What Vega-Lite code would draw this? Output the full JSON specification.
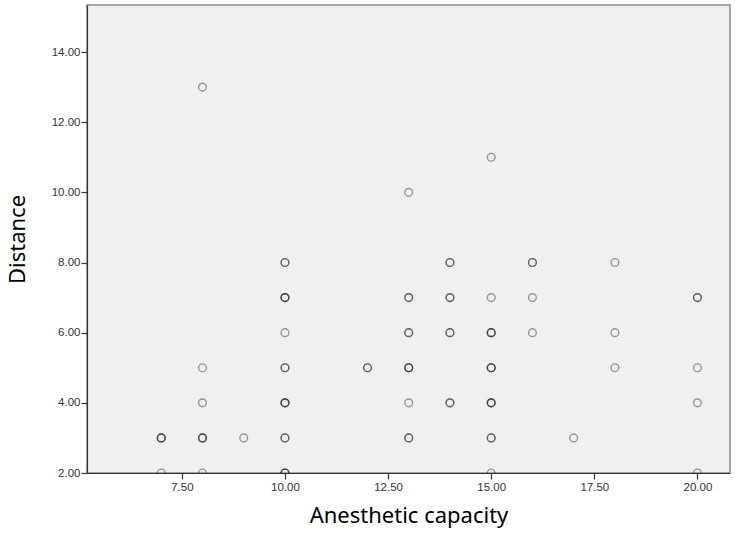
{
  "$schema": "https://vega.github.io/schema/vega-lite/v6.json",
  "width": 643,
  "height": 468,
  "autosize": "none",
  "padding": {"left": 87, "top": 5, "right": 5, "bottom": 64},
  "background": "white",
  "config": {
    "view": {"fill": "#F0F0F0", "stroke": "#8a8a8a", "strokeWidth": 1.5},
    "axis": {
      "grid": false,
      "domainColor": "#333333",
      "domainWidth": 1.2,
      "tickColor": "#333333",
      "tickSize": 6,
      "tickWidth": 1.2,
      "labelFont": "Liberation Sans",
      "labelFontSize": 11.5,
      "labelColor": "#333333",
      "titleFont": "Noto Sans",
      "titleFontSize": 22,
      "titleFontWeight": "normal",
      "titleColor": "#000000"
    }
  },
  "data": {
    "values": [
      {"capacity": 7, "distance": 3}, {"capacity": 7, "distance": 3}, {"capacity": 7, "distance": 3},
      {"capacity": 7, "distance": 2},
      {"capacity": 8, "distance": 13},
      {"capacity": 8, "distance": 5},
      {"capacity": 8, "distance": 4},
      {"capacity": 8, "distance": 3}, {"capacity": 8, "distance": 3}, {"capacity": 8, "distance": 3},
      {"capacity": 8, "distance": 2},
      {"capacity": 9, "distance": 3},
      {"capacity": 10, "distance": 8}, {"capacity": 10, "distance": 8},
      {"capacity": 10, "distance": 7}, {"capacity": 10, "distance": 7}, {"capacity": 10, "distance": 7},
      {"capacity": 10, "distance": 6},
      {"capacity": 10, "distance": 5}, {"capacity": 10, "distance": 5},
      {"capacity": 10, "distance": 4}, {"capacity": 10, "distance": 4}, {"capacity": 10, "distance": 4},
      {"capacity": 10, "distance": 3}, {"capacity": 10, "distance": 3},
      {"capacity": 10, "distance": 2}, {"capacity": 10, "distance": 2}, {"capacity": 10, "distance": 2},
      {"capacity": 12, "distance": 5}, {"capacity": 12, "distance": 5},
      {"capacity": 13, "distance": 10},
      {"capacity": 13, "distance": 7}, {"capacity": 13, "distance": 7},
      {"capacity": 13, "distance": 6}, {"capacity": 13, "distance": 6},
      {"capacity": 13, "distance": 5}, {"capacity": 13, "distance": 5}, {"capacity": 13, "distance": 5},
      {"capacity": 13, "distance": 4},
      {"capacity": 13, "distance": 3}, {"capacity": 13, "distance": 3},
      {"capacity": 14, "distance": 8}, {"capacity": 14, "distance": 8},
      {"capacity": 14, "distance": 7}, {"capacity": 14, "distance": 7},
      {"capacity": 14, "distance": 6}, {"capacity": 14, "distance": 6},
      {"capacity": 14, "distance": 4}, {"capacity": 14, "distance": 4},
      {"capacity": 15, "distance": 11},
      {"capacity": 15, "distance": 7},
      {"capacity": 15, "distance": 6}, {"capacity": 15, "distance": 6}, {"capacity": 15, "distance": 6},
      {"capacity": 15, "distance": 5}, {"capacity": 15, "distance": 5}, {"capacity": 15, "distance": 5},
      {"capacity": 15, "distance": 4}, {"capacity": 15, "distance": 4}, {"capacity": 15, "distance": 4},
      {"capacity": 15, "distance": 3}, {"capacity": 15, "distance": 3},
      {"capacity": 15, "distance": 2},
      {"capacity": 16, "distance": 8}, {"capacity": 16, "distance": 8},
      {"capacity": 16, "distance": 7},
      {"capacity": 16, "distance": 6},
      {"capacity": 17, "distance": 3},
      {"capacity": 18, "distance": 8},
      {"capacity": 18, "distance": 6},
      {"capacity": 18, "distance": 5},
      {"capacity": 20, "distance": 7}, {"capacity": 20, "distance": 7},
      {"capacity": 20, "distance": 5},
      {"capacity": 20, "distance": 4},
      {"capacity": 20, "distance": 2}
    ]
  },
  "mark": {
    "type": "point",
    "shape": "circle",
    "filled": false,
    "size": 60,
    "stroke": "#222222",
    "strokeOpacity": 0.62,
    "strokeWidth": 1.4,
    "clip": true
  },
  "encoding": {
    "x": {
      "field": "capacity",
      "type": "quantitative",
      "title": "Anesthetic capacity",
      "scale": {"domain": [5.2, 20.79], "nice": false, "zero": false},
      "axis": {"values": [7.5, 10, 12.5, 15, 17.5, 20], "format": ".2f", "labelPadding": 2, "titlePadding": 13}
    },
    "y": {
      "field": "distance",
      "type": "quantitative",
      "title": "Distance",
      "scale": {"domain": [2, 15.34], "nice": false, "zero": false},
      "axis": {"values": [2, 4, 6, 8, 10, 12, 14], "format": ".2f", "labelPadding": 1, "titlePadding": 22}
    }
  }
}
